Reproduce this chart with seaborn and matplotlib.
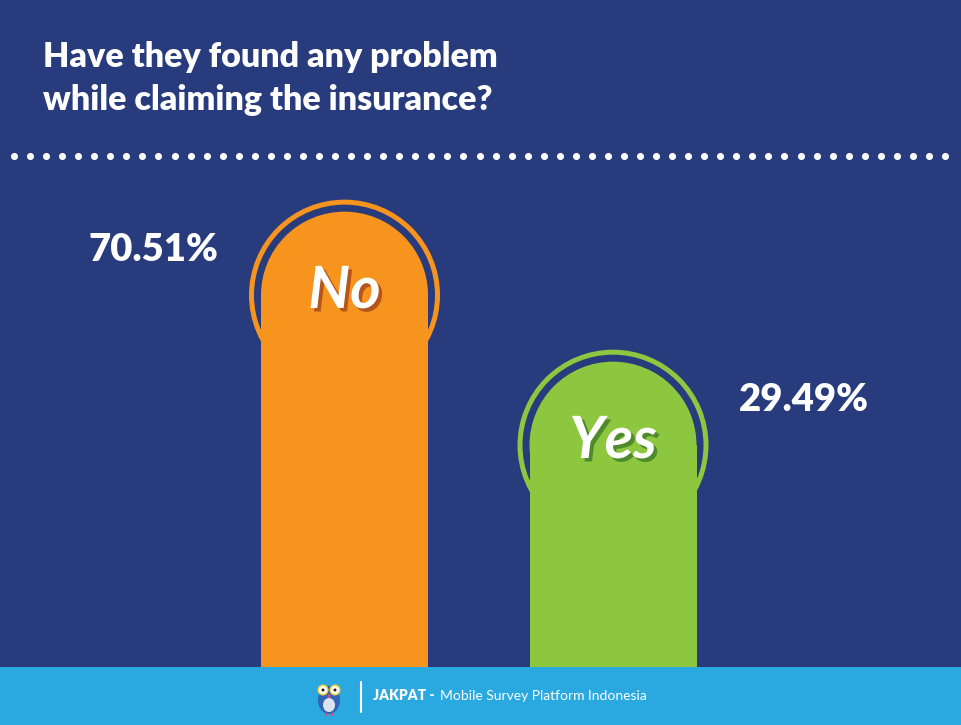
import numpy as np
import matplotlib.pyplot as plt
import matplotlib.patheffects as pe
import seaborn as sns
from matplotlib.patches import Ellipse, Rectangle

answers = ["No", "Yes"]
shares = [70.51, 29.49]
share_labels = ["70.51%", "29.49%"]
title_lines = ["Have they found any problem", "while claiming the insurance?"]

navy = "#273B7D"
bar_colors = ["#F7941D", "#8DC63F"]
shadow_colors = ["#B4561C", "#4F8B2C"]
footer_blue = "#29A9E0"

sns.set_theme(style="white")
plt.rcParams["font.family"] = ["Lato", "DejaVu Sans"]

W, H = 961, 725
fig = plt.figure(figsize=(W / 100, H / 100), dpi=100, facecolor=navy)

# bar area: from the footer up to just under the dotted line
ax = fig.add_axes([0, (H - 667) / H, 1, (667 - 140) / H])
ax.set_facecolor("none")
sns.barplot(x=answers, y=shares, hue=answers, palette=bar_colors,
            saturation=1, width=0.622, legend=False, ax=ax, zorder=3,
            edgecolor="none", linewidth=0)
ylow = -54.0
ax.set_xlim(-1.283, 2.296)
ax.set_ylim(ylow, 90.1)
ax.axis("off")

# size of one data unit in pixels, so the domes stay round
o = ax.transData.transform((0, 0))
px_x = ax.transData.transform((1, 0))[0] - o[0]
px_y = ax.transData.transform((0, 1))[1] - o[1]

for i, p in enumerate(ax.patches[:len(answers)]):
    bw = p.get_width()
    cx = p.get_x() + bw / 2
    r_px = bw * px_x / 2
    r_y = r_px / px_y
    top = shares[i]
    cy = top - r_y
    p.set_y(ylow)
    p.set_height(cy - ylow)
    ax.add_patch(Ellipse((cx, cy), bw, 2 * r_y, color=bar_colors[i], zorder=3, lw=0))
    ring = 93.0
    ax.add_patch(Ellipse((cx, cy), 2 * ring / px_x, 2 * ring / px_y, fill=False,
                         ec=bar_colors[i], lw=3.6, zorder=2))
    side = -1 if i == 0 else 1
    ax.text(cx + side * 0.71, top - 10.5, share_labels[i], ha="center", va="center",
            fontsize=27.5, weight="heavy", color="white")
    ax.text(cx, cy + 1, answers[i], ha="center", va="center", fontsize=42,
            style="italic", weight="bold", color="white", zorder=5,
            path_effects=[pe.SimplePatchShadow(offset=(2.5, -2.5),
                                               shadow_rgbFace=shadow_colors[i], alpha=1),
                          pe.Normal()])

# decorations in pixel coordinates
deco = fig.add_axes([0, 0, 1, 1], zorder=5)
deco.set_facecolor("none")
deco.set_xlim(0, W)
deco.set_ylim(H, 0)
deco.axis("off")

deco.text(43, 67, title_lines[0], fontsize=24.5, weight="heavy", color="white", va="baseline")
deco.text(43, 110, title_lines[1], fontsize=24.5, weight="heavy", color="white", va="baseline")

dots_x = np.linspace(14, 945, 59)
deco.scatter(dots_x, np.full(len(dots_x), 156), s=26, color="white", linewidths=0)

deco.add_patch(Rectangle((0, 667), W, H - 667, color=footer_blue, lw=0))
deco.plot([361, 361], [682, 712], color="white", lw=1.5)
deco.text(373, 700, "JAKPAT -", fontsize=10, weight="heavy", color="white", va="baseline")
deco.text(440, 700, "Mobile Survey Platform Indonesia", fontsize=10, color="white", va="baseline")

# little owl mascot
deco.add_patch(Ellipse((329, 700), 22, 28, color="#2F66B3", lw=0))
deco.add_patch(Ellipse((329, 705), 12, 14, color="#DCE3EE", lw=0))
for ex in (323, 335):
    deco.add_patch(Ellipse((ex, 690), 11, 11, color="#F5D33C", lw=0))
    deco.add_patch(Ellipse((ex, 690), 8, 8, color="white", lw=0))
    deco.add_patch(Ellipse((ex, 690), 3, 3, color="#1A1A1A", lw=0))
deco.add_patch(Ellipse((329, 696), 3, 4, color="#E8457A", lw=0))
for fx in (326, 332):
    deco.add_patch(Rectangle((fx - 1, 713), 2, 3, color="#E8457A", lw=0))

fig.savefig("out.png", dpi=100, facecolor=navy)
